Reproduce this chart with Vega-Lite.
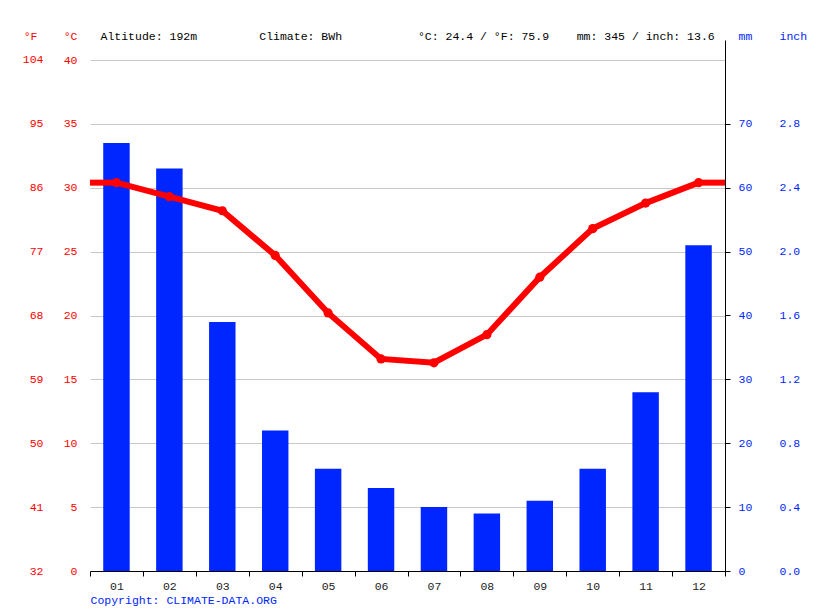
{
  "$schema": "https://vega.github.io/schema/vega-lite/v6.json",
  "width": 635,
  "height": 531,
  "autosize": "none",
  "padding": {"left": 90, "top": 40, "right": 90, "bottom": 40},
  "background": "white",
  "data": {
    "values": [
      {"month": "01", "m": 1, "temp": 30.4, "precip": 67},
      {"month": "02", "m": 2, "temp": 29.3, "precip": 63},
      {"month": "03", "m": 3, "temp": 28.2, "precip": 39},
      {"month": "04", "m": 4, "temp": 24.7, "precip": 22},
      {"month": "05", "m": 5, "temp": 20.2, "precip": 16},
      {"month": "06", "m": 6, "temp": 16.6, "precip": 13},
      {"month": "07", "m": 7, "temp": 16.3, "precip": 10},
      {"month": "08", "m": 8, "temp": 18.5, "precip": 9},
      {"month": "09", "m": 9, "temp": 23.0, "precip": 11},
      {"month": "10", "m": 10, "temp": 26.8, "precip": 16},
      {"month": "11", "m": 11, "temp": 28.8, "precip": 28},
      {"month": "12", "m": 12, "temp": 30.4, "precip": 51}
    ]
  },
  "layer": [
    {
      "mark": {"type": "bar", "width": {"band": 0.5}, "color": "#0026ff"},
      "encoding": {
        "x": {
          "field": "month",
          "type": "ordinal",
          "scale": {"paddingInner": 0, "paddingOuter": 0},
          "axis": {
            "orient": "bottom",
            "labelAngle": 0,
            "labelColor": "#222222",
            "labelFontSize": 11.5,
            "labelPadding": 4,
            "tickBand": "extent",
            "tickSize": 5,
            "tickColor": "#000000",
            "domainColor": "#000000",
            "grid": false,
            "title": "Copyright: CLIMATE-DATA.ORG",
            "titleColor": "#0026ff",
            "titleFontWeight": "normal",
            "titleFontSize": 11.5,
            "titleAlign": "left",
            "titleAnchor": "start",
            "titleBaseline": "middle",
            "titleX": 0,
            "titleY": 29
          }
        },
        "y": {
          "field": "precip",
          "type": "quantitative",
          "scale": {"domain": [0, 83.131], "nice": false, "zero": true},
          "axis": {
            "orient": "right",
            "values": [0, 10, 20, 30, 40, 50, 60, 70],
            "grid": false,
            "domainColor": "#000000",
            "tickColor": "#000000",
            "tickSize": 5,
            "labelPadding": 8,
            "labelColor": "#0026ff",
            "labelFontSize": 11.5,
            "title": "mm",
            "titleAngle": 0,
            "titleAlign": "left",
            "titleBaseline": "middle",
            "titleX": 13,
            "titleY": -4,
            "titleColor": "#0026ff",
            "titleFontWeight": "normal",
            "titleFontSize": 11.5
          }
        }
      }
    },
    {
      "encoding": {
        "x": {
          "field": "m",
          "type": "quantitative",
          "scale": {"domain": [0.5, 12.5], "nice": false, "zero": false},
          "axis": {
            "orient": "top",
            "labels": false,
            "ticks": false,
            "tickSize": 0,
            "domain": false,
            "grid": false,
            "title": "Altitude: 192m\u00a0\u00a0\u00a0\u00a0\u00a0\u00a0\u00a0\u00a0\u00a0Climate: BWh\u00a0\u00a0\u00a0\u00a0\u00a0\u00a0\u00a0\u00a0\u00a0\u00a0\u00a0°C: 24.4 / °F: 75.9\u00a0\u00a0\u00a0\u00a0mm: 345 / inch: 13.6",
            "titleColor": "#000000",
            "titleFontWeight": "normal",
            "titleFontSize": 11.5,
            "titleAlign": "left",
            "titleAnchor": "start",
            "titleBaseline": "middle",
            "titleX": 10,
            "titleY": -4
          }
        },
        "y": {
          "field": "temp",
          "type": "quantitative",
          "scale": {"domain": [0, 41.566], "nice": false, "zero": true},
          "axis": {
            "orient": "left",
            "values": [0, 5, 10, 15, 20, 25, 30, 35, 40],
            "grid": true,
            "gridColor": "#c8c8c8",
            "gridWidth": 1,
            "zindex": 0,
            "domain": false,
            "ticks": false,
            "tickSize": 0,
            "labelPadding": 13,
            "labelColor": "#ff0000",
            "labelFontSize": 11.5,
            "title": "°C",
            "titleAngle": 0,
            "titleAlign": "right",
            "titleBaseline": "middle",
            "titleX": -13,
            "titleY": -4,
            "titleColor": "#ff0000",
            "titleFontWeight": "normal",
            "titleFontSize": 11.5
          }
        }
      },
      "layer": [
        {
          "mark": {"type": "line", "color": "#ff0000", "strokeWidth": 6}
        },
        {
          "mark": {"type": "point", "filled": true, "color": "#ff0000", "size": 85, "opacity": 1}
        },
        {
          "transform": [{"filter": "datum.m == 1"}],
          "mark": {"type": "rule", "color": "#ff0000", "strokeWidth": 6},
          "encoding": {
            "x": {"datum": 0.5, "type": "quantitative"},
            "x2": {"field": "m"}
          }
        },
        {
          "transform": [{"filter": "datum.m == 12"}],
          "mark": {"type": "rule", "color": "#ff0000", "strokeWidth": 6},
          "encoding": {
            "x": {"field": "m", "type": "quantitative"},
            "x2": {"datum": 12.5}
          }
        }
      ]
    },
    {
      "mark": {"type": "rule", "opacity": 0},
      "encoding": {
        "y": {
          "datum": 32,
          "type": "quantitative",
          "scale": {"domain": [32, 106.818], "nice": false, "zero": false},
          "axis": {
            "orient": "left",
            "offset": 34,
            "values": [32, 41, 50, 59, 68, 77, 86, 95, 104],
            "grid": false,
            "domain": false,
            "ticks": false,
            "tickSize": 0,
            "labelPadding": 13,
            "labelColor": "#ff0000",
            "labelFontSize": 11.5,
            "title": "°F",
            "titleAngle": 0,
            "titleAlign": "right",
            "titleBaseline": "middle",
            "titleX": -19,
            "titleY": -4,
            "titleColor": "#ff0000",
            "titleFontWeight": "normal",
            "titleFontSize": 11.5
          }
        }
      }
    },
    {
      "mark": {"type": "rule", "opacity": 0},
      "encoding": {
        "y": {
          "datum": 0,
          "type": "quantitative",
          "scale": {"domain": [0, 3.3252], "nice": false, "zero": true},
          "axis": {
            "orient": "right",
            "offset": 54,
            "values": [0, 0.4, 0.8, 1.2, 1.6, 2.0, 2.4, 2.8],
            "format": ".1f",
            "grid": false,
            "domain": false,
            "ticks": false,
            "tickSize": 0,
            "labelPadding": 0,
            "labelColor": "#0026ff",
            "labelFontSize": 11.5,
            "title": "inch",
            "titleAngle": 0,
            "titleAlign": "left",
            "titleBaseline": "middle",
            "titleX": 0,
            "titleY": -4,
            "titleColor": "#0026ff",
            "titleFontWeight": "normal",
            "titleFontSize": 11.5
          }
        }
      }
    }
  ],
  "resolve": {"scale": {"x": "independent", "y": "independent"}},
  "config": {
    "font": "Liberation Mono",
    "view": {"stroke": null},
    "axis": {"labelFont": "Liberation Mono", "titleFont": "Liberation Mono"}
  }
}
